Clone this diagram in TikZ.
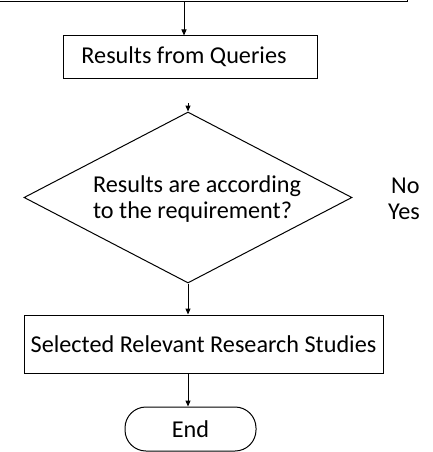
\documentclass[tikz,border=0pt]{standalone}
\usepackage{fontspec}
\setmainfont{Carlito}
\usetikzlibrary{arrows.meta,shapes.geometric}
\begin{document}
\begin{tikzpicture}[x=1pt,y=-1pt,
  font=\fontsize{24.2}{26}\selectfont,
  box/.style={draw, line width=1pt, rectangle, inner sep=0pt},
  arr/.style={draw, line width=1pt, -{Triangle[length=6pt,width=5pt]}},
  lbl/.style={inner sep=0pt, align=left}]
\useasboundingbox (0,0) rectangle (432,452);
\node[box, anchor=south east, minimum width=430pt, minimum height=80pt] (top) at (408,2) {};
\node[box, minimum width=254pt, minimum height=42pt] (res) at (190,57) {Results from Queries\hspace*{12pt}};
\node[draw, line width=1pt, diamond, inner sep=0pt, minimum width=328pt, minimum height=171pt, aspect=1.92] (dia) at (188,197.5) {};
\node[lbl] (dtxt) at (197,199) {Results are according\\to the requirement?};
\node[lbl, anchor=base west] (no) at (391,193) {No};
\node[lbl, anchor=base west] (yes) at (388,219) {Yes};
\node[box, minimum width=359pt, minimum height=58pt] (sel) at (203.5,344) {Selected Relevant Research Studies};
\node[draw, line width=1pt, rectangle, rounded corners=21pt, minimum width=131pt, minimum height=44pt, inner sep=0pt] (endn) at (190.5,429) {End};
\coordinate (a1) at (184,2);
\coordinate (a2) at (188,103);
\draw[arr] (a1) -- (a1 |- res.north);
\draw[arr] (a2) -- (dia.north);
\draw[arr] (dia.south) -- (dia.south |- sel.north);
\draw[arr] (dia.south |- sel.south) -- (dia.south |- endn.north);
\end{tikzpicture}
\end{document}
